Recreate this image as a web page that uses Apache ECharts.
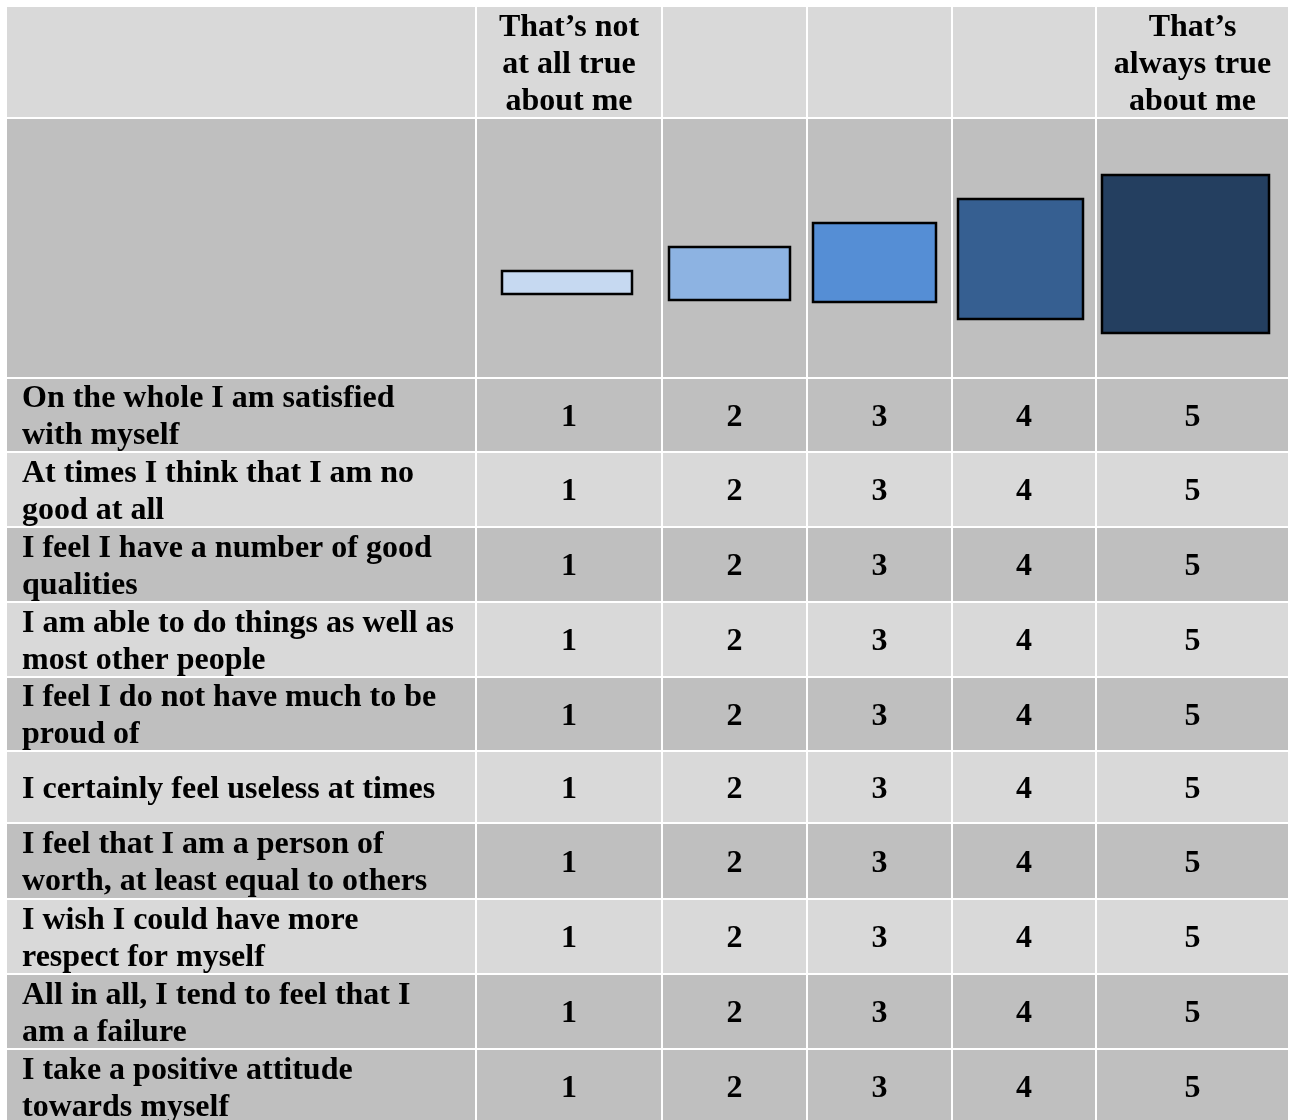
<!DOCTYPE html>
<html>
<head>
<meta charset="utf-8">
<script src="https://cdn.jsdelivr.net/npm/echarts@6/dist/echarts.min.js"></script>
<style>
  html, body { margin: 0; padding: 0; background: #ffffff; }
  #chart { width: 1290px; height: 1120px; }
</style>
</head>
<body>
<div id="chart"></div>
<script>
// ---- data ----
const headerLabels = ['', 'That’s not\nat all true\nabout me', '', '', '', 'That’s\nalways true\nabout me'];
const scaleValues = [1, 2, 3, 4, 5];
const items = [
  'On the whole I am satisfied\nwith myself',
  'At times I think that I am no\ngood at all',
  'I feel I have a number of good\nqualities',
  'I am able to do things as well as\nmost other people',
  'I feel I do not have much to be\nproud of',
  'I certainly feel useless at times',
  'I feel that I am a person of\nworth, at least equal to others',
  'I wish I could have more\nrespect for myself',
  'All in all, I tend to feel that I\nam a failure',
  'I take a positive attitude\ntowards myself'
];
// scale icons (table units): extents of each intensity box
const iconLeft   = [495, 662, 806, 951, 1095];
const iconRight  = [627, 785, 931, 1078, 1264];
const iconTop    = [264, 240, 216, 192, 168];
const iconBottom = [289, 295, 297, 314, 328];

// ---- layout / style ----
const colEdges = [0, 470, 656, 801, 946, 1090, 1283];
const rowEdges = [0, 112, 372, 446, 521, 596, 671, 745, 817, 893, 968, 1043, 1118];
const iconColors = ['#c6d9f1', '#8db3e2', '#558ed5', '#365f91', '#243f60'];
const LIGHT = '#d9d9d9', DARK = '#bfbfbf';
// row shading: header, icon row, then the ten statement rows
const rowShades = [LIGHT, DARK, DARK, LIGHT, DARK, LIGHT, DARK, LIGHT, DARK, LIGHT, DARK, DARK];
const FONT = 'bold 32px "Liberation Serif", "Times New Roman", serif';
const TEXT_DY = 2.5;

const cells = [];
for (let r = 0; r < rowEdges.length - 1; r++) {
  for (let c = 0; c < colEdges.length - 1; c++) {
    cells.push([colEdges[c], rowEdges[r], r, c]);
  }
}

function renderItem(params, api) {
  const r = api.value(2), c = api.value(3);
  const p0 = api.coord([colEdges[c], rowEdges[r]]);
  const p1 = api.coord([colEdges[c + 1], rowEdges[r + 1]]);
  const children = [{
    type: 'rect',
    shape: { x: p0[0] + 1, y: p0[1] + 1, width: p1[0] - p0[0] - 2, height: p1[1] - p0[1] - 2 },
    style: { fill: rowShades[r] }
  }];
  const cx = (p0[0] + p1[0]) / 2, cy = (p0[1] + p1[1]) / 2 + TEXT_DY;
  if (r === 0) {
    if (headerLabels[c]) {
      children.push({ type: 'text', style: { text: headerLabels[c], x: cx, y: cy, font: FONT, lineHeight: 37, fill: '#000', align: 'center', verticalAlign: 'middle' } });
    }
  } else if (r === 1) {
    if (c >= 1) {
      const k = c - 1;
      const a = api.coord([iconLeft[k], iconTop[k]]);
      const b = api.coord([iconRight[k], iconBottom[k]]);
      children.push({
        type: 'rect',
        shape: { x: a[0] + 1, y: a[1] + 1, width: b[0] - a[0] - 2, height: b[1] - a[1] - 2 },
        style: { fill: iconColors[k], stroke: '#000', lineWidth: 2.5 }
      });
    }
  } else {
    if (c === 0) {
      const tx = api.coord([colEdges[0] + 16, 0])[0];
      children.push({ type: 'text', style: { text: items[r - 2], x: tx, y: cy, font: FONT, lineHeight: 37, fill: '#000', align: 'left', verticalAlign: 'middle' } });
    } else {
      children.push({ type: 'text', style: { text: String(scaleValues[c - 1]), x: cx, y: cy, font: FONT, fill: '#000', align: 'center', verticalAlign: 'middle' } });
    }
  }
  return { type: 'group', children: children };
}

const chart = echarts.init(document.getElementById('chart'), null, { renderer: 'canvas' });
chart.setOption({
  animation: false,
  backgroundColor: '#ffffff',
  grid: { left: 6, right: 1, top: 6, bottom: 0 },
  xAxis: { type: 'value', min: 0, max: 1283, show: false },
  yAxis: { type: 'value', min: 0, max: 1114, inverse: true, show: false },
  series: [{
    type: 'custom',
    clip: true,
    renderItem: renderItem,
    encode: { x: 0, y: 1 },
    data: cells
  }]
});
</script>
</body>
</html>
